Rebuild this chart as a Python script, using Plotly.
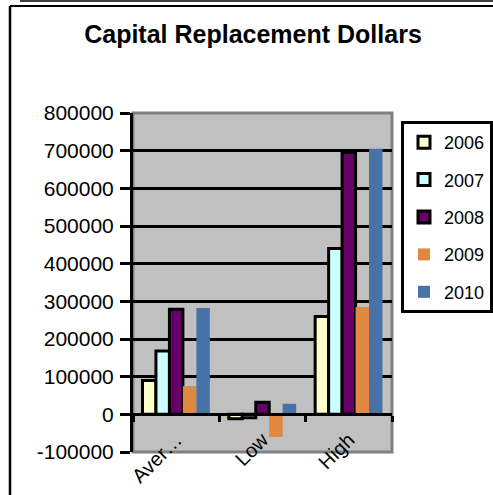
import plotly.graph_objects as go

categories = ["Average", "Low", "High"]
tick_labels = ["Aver…", "Low", "High"]
years = ["2006", "2007", "2008", "2009", "2010"]
v2006 = [90000, -12000, 260000]
v2007 = [168000, -9000, 440000]
v2008 = [279000, 32000, 695000]
v2009 = [75000, -60000, 285000]
v2010 = [282000, 28000, 705000]
series = [v2006, v2007, v2008, v2009, v2010]
y_tickvals = [-100000, 0, 100000, 200000, 300000, 400000, 500000, 600000, 700000, 800000]
y_ticktext = ["-100000", "0", "100000", "200000", "300000", "400000",
              "500000", "600000", "700000", "800000"]
colors = ["#FFFFCC", "#CCFFFF", "#660066", "#E0883F", "#4672A8"]
outlined = [True, True, True, False, False]

FONT = "Liberation Sans, Arial, sans-serif"

fig = go.Figure()
for i, (yr, vals) in enumerate(zip(years, series)):
    fig.add_trace(go.Bar(
        name=yr, x=categories, y=vals,
        marker=dict(color=colors[i],
                    line=dict(color="black", width=3 if outlined[i] else 0)),
        legendgroup=yr,
    ))

L, R, T, B = 133, 101, 113, 43
W, H = 493, 495
pw, ph = W - L - R, H - T - B

def px(x):
    return (x - L) / pw

def py(y):
    return (H - B - y) / ph

fig.update_layout(
    width=W, height=H,
    margin=dict(l=L, r=R, t=T, b=B, autoexpand=False),
    paper_bgcolor="white",
    plot_bgcolor="#C0C0C0",
    barmode="group",
    bargap=0.22,
    bargroupgap=0,
    font=dict(family=FONT, size=20, color="black"),
    title=dict(text="<b>Capital Replacement Dollars</b>", x=253 / W, xanchor="center",
               y=1 - 34 / H, yanchor="middle", yref="container",
               font=dict(size=25, family=FONT, color="black")),
    legend=dict(x=px(401), y=py(121), xanchor="left", yanchor="top",
                bordercolor="black", borderwidth=3, bgcolor="white",
                font=dict(size=18, family=FONT),
                traceorder="grouped", tracegroupgap=11,
                itemwidth=30),
    showlegend=True,
    xaxis=dict(type="category", anchor="free", position=100000 / 900000,
               showline=True, linecolor="black", linewidth=3,
               tickson="boundaries", ticks="outside", ticklen=6, tickwidth=3,
               tickcolor="black", tickangle=-45,
               tickvals=categories, ticktext=tick_labels,
               ticklabelstandoff=4,
               showgrid=False, zeroline=False,
               tickfont=dict(size=20, family=FONT)),
    yaxis=dict(range=[-100000, 800000],
               tickvals=y_tickvals, ticktext=y_ticktext,
               showline=True, linecolor="black", linewidth=3,
               ticks="outside", ticklen=10, tickwidth=3, tickcolor="black",
               showgrid=True, gridcolor="black", gridwidth=2.5,
               zeroline=True, zerolinecolor="black", zerolinewidth=3,
               ticklabelstandoff=2,
               tickfont=dict(size=21, family=FONT)),
    shapes=[
        dict(type="rect", xref="x domain", yref="y domain", x0=0, x1=1, y0=0, y1=1,
             line=dict(color="#808080", width=3), layer="below"),
        dict(type="line", xref="paper", yref="paper", x0=px(10), x1=px(W + 5),
             y0=py(6), y1=py(6), line=dict(color="black", width=2)),
        dict(type="line", xref="paper", yref="paper", x0=px(20), x1=px(W + 5),
             y0=py(1), y1=py(1), line=dict(color="black", width=1.5)),
        dict(type="line", xref="paper", yref="paper", x0=px(10), x1=px(10),
             y0=py(6), y1=py(H + 5), line=dict(color="black", width=2.5)),
    ],
)

fig.write_html(
    "out.html",
    config={"displayModeBar": False},
    post_script="document.body.style.margin='0';document.body.style.padding='0';"
                "document.body.style.overflow='hidden';",
)
